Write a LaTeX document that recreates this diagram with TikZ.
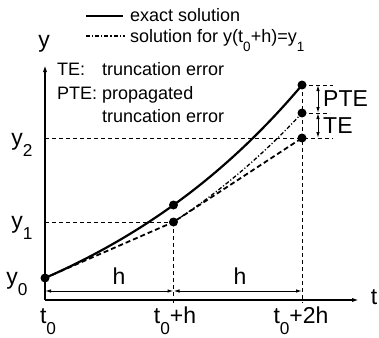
\documentclass[tikz,border=0pt]{standalone}
\usepackage{fontspec}
\setmainfont{Liberation Sans}
\usepackage{graphicx}
\usetikzlibrary{arrows.meta}
\newcommand\lsub[1]{\raisebox{-0.5em}{\scalebox{0.75}{#1}}}
\begin{document}
\begin{tikzpicture}[x=1pt,y=-1pt,
  axisline/.style={line width=1.6pt,-{Latex[length=8pt,width=4pt]}},
  exact/.style={line width=2.2pt},
  approx/.style={line width=1.8pt,dash pattern=on 5pt off 3pt},
  dashdot/.style={line width=1.3pt,dash pattern=on 4pt off 2pt on 1.2pt off 2pt},
  guide/.style={line width=0.9pt,dash pattern=on 4pt off 3pt},
  dim/.style={line width=1pt,{Latex[length=6pt,width=3.5pt]}-{Latex[length=6pt,width=3.5pt]}},
  dot/.style={circle,fill=black,inner sep=0pt,minimum size=9pt},
  small/.style={font=\fontsize{18}{21}\selectfont,inner sep=0pt},
  big/.style={font=\fontsize{23}{27}\selectfont,inner sep=0pt}]
\useasboundingbox (0,0) rectangle (379,337);
% axes
\coordinate (O) at (45,300);
\coordinate (ytop) at (45,64);
\coordinate (tend) at (360,300);
\draw[axisline] (O) -- (ytop);
\draw[axisline] (O) -- (tend);
\node[big] (ylab) at (44,44) {y};
\node[big] (tlab) at (374,297) {t};
% points
\node[dot] (p0) at (45,278) {};
\node[dot] (e1) at (173.5,205) {};
\node[dot] (a1) at (173.5,222) {};
\node[dot] (e2) at (302,85) {};
\node[dot] (m2) at (302,113) {};
\node[dot] (a2) at (302,138) {};
% guides
\coordinate (y1L) at (45,222);
\coordinate (y2L) at (45,138);
\coordinate (y2R) at (333,138);
\coordinate (e2R) at (333,85);
\coordinate (m2R) at (330,113);
\coordinate (h1B) at (173.5,303);
\coordinate (h2B) at (302,303);
\draw[guide] (y1L) -- (a1.center);
\draw[guide] (y2L) -- (y2R);
\draw[guide] (e2.center) -- (e2R);
\draw[guide] (m2.center) -- (m2R);
\draw[guide] (a1.center) -- (h1B);
\draw[guide] (e2.center) -- (h2B);
% curves
\draw[exact] plot[domain=0:2,samples=60] ({45+128.5*\x},{278-113.35*(1.644^\x-1)});
\draw[dashdot] plot[domain=0:1,samples=40] ({173.5+128.5*\x},{222-169.3*(1.644^\x-1)});
\draw[approx] (p0.center) -- (a1.center) -- (a2.center);
% h dimensions
\coordinate (d0) at (45,291);
\coordinate (d1) at (173.5,291);
\coordinate (d2) at (302,291);
\draw[dim] (d0) -- (d1);
\draw[dim] (d1) -- (d2);
\node[big] (h1) at (119,276) {h};
\node[big] (h2) at (240,276) {h};
% PTE / TE
\coordinate (q1) at (318,85);
\coordinate (q2) at (318,113);
\coordinate (q3) at (318,138);
\draw[dim] (q1) -- (q2);
\draw[dim] (q2) -- (q3);
\node[big,anchor=west] (pte) at (323,99) {PTE};
\node[big,anchor=west] (te) at (323,126) {TE};
% axis labels
\node[big,anchor=base] (y2) at (22,145) {y\lsub{2}};
\node[big,anchor=base] (y1) at (22,228) {y\lsub{1}};
\node[big,anchor=base] (y0) at (17,284) {y\lsub{0}};
\node[big,anchor=base] (t0) at (48,323) {t\lsub{0}};
\node[big,anchor=base] (t1) at (175,323) {t\lsub{0}+h};
\node[big,anchor=base] (t2) at (301,323) {t\lsub{0}+2h};
% legend
\coordinate (l1a) at (86,16);
\coordinate (l1b) at (123,16);
\coordinate (l2a) at (86,36);
\coordinate (l2b) at (125,36);
\draw[exact] (l1a) -- (l1b);
\draw[dashdot] (l2a) -- (l2b);
\node[small,anchor=base west] (leg1) at (130,22) {exact solution};
\node[small,anchor=base west] (leg2) at (130,42) {solution for y(t\lsub{0}+h)=y\lsub{1}};
% notes
\node[small,anchor=base west] (n1) at (57,75) {TE:};
\node[small,anchor=base west] (n1b) at (102,75) {truncation error};
\node[small,anchor=base west] (n2) at (57,99) {PTE:};
\node[small,anchor=base west] (n2b) at (102,99) {propagated};
\node[small,anchor=base west] (n3) at (102,122) {truncation error};
\end{tikzpicture}
\end{document}
